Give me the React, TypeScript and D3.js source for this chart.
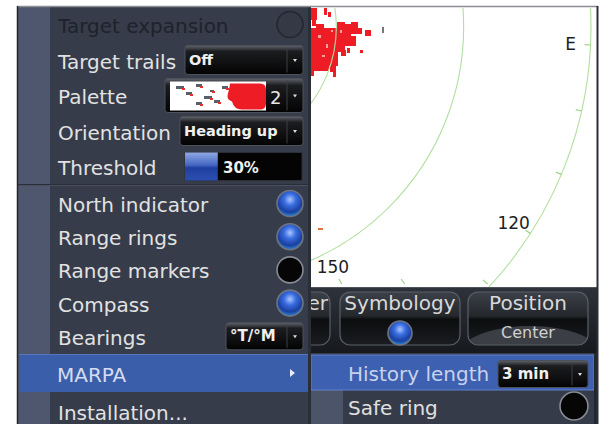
import React from "react";
import * as d3 from "d3";

// ---------- data ----------
const menuItems = [
  "Target expansion", "Target trails", "Palette", "Orientation", "Threshold",
  "North indicator", "Range rings", "Range markers", "Compass", "Bearings",
  "MARPA", "Installation...",
];
const menuControls = [
  "ring", "select", "palette", "select", "slider",
  "on", "on", "off", "on", "select", "arrow", "none",
];
const menuValues = ["", "Off", "2", "Heading up", "30%", "", "", "", "", "°T/°M", "", ""];
const thresholdPercent = 28;
const subItems = ["History length", "Safe ring"];
const subControls = ["select", "off"];
const subValues = ["3 min", ""];
const toolbarButtons = ["Filter", "Symbology", "Position"];
const toolbarSubs = ["", "ball", "Center"];
const ringRanges = [0.5, 1, 1.5];
const maxRange = 1.5;
const heading = 357.3;
const compassTicks = [90, 100, 110, 120, 130, 140, 150];
const compassLabels = [
  { bearing: 90, text: "E" },
  { bearing: 120, text: "120" },
  { bearing: 150, text: "150" },
];
// radar echo cells (image px: x, y, w, h)
const radarEchoes = [
  [310, 8, 7, 12], [312, 20, 4, 6], [324, 8, 3, 7], [328, 12, 3, 5],
  [310, 28, 28, 38], [316, 24, 8, 6], [337, 22, 8, 30], [345, 24, 6, 22],
  [351, 22, 7, 12], [351, 36, 5, 10], [358, 28, 4, 6], [313, 62, 16, 9],
  [330, 60, 6, 12], [333, 70, 3, 7], [310, 66, 4, 10], [341, 50, 5, 6],
  [365, 30, 6, 6], [360, 50, 3, 3], [347, 48, 3, 5],
];
const echoHoles = [[318, 35, 3, 3], [326, 44, 2, 4], [340, 30, 2, 3], [322, 55, 3, 2], [331, 30, 2, 2]];
const echoSpecks = [[382, 27, 2, 6], [318, 228, 5, 2]];
const paletteSpecks = [
  [176, 86, 8, 3], [186, 92, 6, 3], [196, 84, 6, 3], [204, 96, 8, 3],
  [214, 100, 6, 3], [196, 102, 6, 3], [222, 86, 6, 3], [210, 90, 4, 2],
];

const FONT = "DejaVu Sans";

function Select({ x, y, w, h, label, fs = 14.5 }: any) {
  return (
    <g>
      <rect x={x} y={y} width={w} height={h} rx={3} fill="url(#selGrad)" stroke="#4d515a" />
      <line x1={x + w - 16} x2={x + w - 16} y1={y + 2} y2={y + h - 2} stroke="#3c3f46" />
      <path d={`M${x + w - 10},${y + h / 2 - 1} l4,0 l-2,3 z`} fill="#dddddd" />
      <text x={x + 4} y={y + h / 2 + 5} fontSize={fs} fontWeight="bold" fill="#f0f0f0" fontFamily={FONT}>
        {label}
      </text>
    </g>
  );
}

function Ball({ cx, cy, on, r = 13 }: any) {
  return (
    <circle cx={cx} cy={cy} r={r} fill={on ? "url(#ballGrad)" : "#060606"} stroke={on ? "#6d7380" : "#868b94"} strokeWidth={1.6} />
  );
}

export default function App() {
  // radar geometry
  const cx = 209, cy = 27, R = 382;
  const view = { x0: 311, y0: 8, x1: 597, y1: 287 };
  const rScale = d3.scaleLinear().domain([0, maxRange]).range([0, R]);
  const angle = (b: number) => ((b - heading - 90) * Math.PI) / 180; // from east, clockwise
  const polar = (b: number, r: number, yMax: number) => {
    const a = angle(b);
    let rr = r;
    if (Math.sin(a) > 0) rr = Math.min(rr, (yMax - cy) / Math.sin(a));
    return [cx + rr * Math.cos(a), cy + rr * Math.sin(a), rr];
  };

  // menu layout
  const rowY = d3.scaleLinear().domain([0, 4, 5, 9, 10, 11]).range([24.5, 166.5, 203.5, 336.3, 373, 411.5]);
  const selectBox: any = {
    1: [185, 118, 29], 2: [165, 138, 34], 3: [180, 123, 29], 4: [185, 117, 28], 9: [226, 77, 27],
  };
  const slider = d3.scaleLinear().domain([0, 100]).range([0, 117]);
  const btnX = (i: number) => 212 + i * 128;
  const subY = d3.scaleLinear().domain([0, 1]).range([372.5, 406]);

  return (
    <svg width={601} height={424} style={{ position: "fixed", left: 0, top: 0, background: "#fff" }} fontFamily={FONT}>
      <defs>
        <linearGradient id="selGrad" x1="0" y1="0" x2="0" y2="1">
          <stop offset="0%" stopColor="#60646c" />
          <stop offset="20%" stopColor="#1c1d20" />
          <stop offset="100%" stopColor="#030303" />
        </linearGradient>
        <radialGradient id="ballGrad" cx="50%" cy="35%" r="65%">
          <stop offset="0%" stopColor="#a9c6ff" />
          <stop offset="35%" stopColor="#3a6de0" />
          <stop offset="75%" stopColor="#1a3f9e" />
          <stop offset="100%" stopColor="#2f8ad8" />
        </radialGradient>
        <linearGradient id="sliderGrad" x1="0" y1="0" x2="0" y2="1">
          <stop offset="0%" stopColor="#8fa9e2" />
          <stop offset="45%" stopColor="#4466c2" />
          <stop offset="55%" stopColor="#1f3f9f" />
          <stop offset="100%" stopColor="#2b4fb2" />
        </linearGradient>
        <linearGradient id="toolGrad" x1="0" y1="0" x2="0" y2="1">
          <stop offset="0%" stopColor="#2e323a" />
          <stop offset="100%" stopColor="#16181c" />
        </linearGradient>
        <linearGradient id="btnGrad" x1="0" y1="0" x2="0" y2="1">
          <stop offset="0%" stopColor="#3c4048" />
          <stop offset="45%" stopColor="#24272c" />
          <stop offset="52%" stopColor="#0c0d0f" />
          <stop offset="100%" stopColor="#1b1d21" />
        </linearGradient>
        <clipPath id="radarClip">
          <rect x={view.x0} y={view.y0} width={view.x1 - view.x0} height={view.y1 - view.y0} />
        </clipPath>
        {toolbarButtons.map((b, i) => (
          <clipPath id={`btnClip${i}`} key={b}>
            <rect x={btnX(i)} y={292} width={120} height={53} rx={10} />
          </clipPath>
        ))}
      </defs>

      {/* radar */}
      <rect x={view.x0} y={view.y0} width={view.x1 - view.x0} height={view.y1 - view.y0} fill="#ffffff" />
      <g clipPath="url(#radarClip)">
        {radarEchoes.map(([x, y, w, h], i) => (
          <rect key={i} x={x} y={y} width={w} height={h} fill="#ee1c24" />
        ))}
        {echoHoles.map(([x, y, w, h], i) => (
          <rect key={i} x={x} y={y} width={w} height={h} fill="#f6a0a0" />
        ))}
        {echoSpecks.map(([x, y, w, h], i) => (
          <rect key={i} x={x} y={y} width={w} height={h} fill={i === 0 ? "#777" : "#e07040"} />
        ))}
        {ringRanges.map((r) => (
          <circle key={r} cx={cx} cy={cy} r={rScale(r)} fill="none" stroke="#b3dea0" strokeWidth={1.1} />
        ))}
        {compassTicks.map((b) => {
          const [x, y] = polar(b, R, 284);
          const a = angle(b);
          return <line key={b} x1={x} y1={y} x2={x - 6 * Math.cos(a)} y2={y - 6 * Math.sin(a)} stroke="#9fd28a" strokeWidth={1.2} />;
        })}
        {compassLabels.map((l) => {
          const [x, y] = polar(l.bearing, R - 20, 267);
          return (
            <text key={l.text} x={x} y={y + 6} textAnchor="middle" fontSize={17} fill="#1e1e1e">
              {l.text}
            </text>
          );
        })}
      </g>

      {/* toolbar */}
      <rect x={308} y={287} width={290} height={68} fill="url(#toolGrad)" />
      <line x1={308} x2={598} y1={287.5} y2={287.5} stroke="#4e535c" />
      {toolbarButtons.map((b, i) => {
        const x = btnX(i);
        return (
          <g key={b}>
            <rect x={x} y={292} width={i === 0 ? 118 : 120} height={53} rx={10} fill="url(#btnGrad)" />
            {toolbarSubs[i] === "Center" && (
              <ellipse cx={x + 62} cy={356} rx={72} ry={30} fill="#3b3e44" clipPath={`url(#btnClip${i})`} />
            )}
            <rect x={x} y={292} width={i === 0 ? 118 : 120} height={53} rx={10} fill="none" stroke="#5b6068" strokeWidth={1.2} />
            <text
              x={i === 0 ? x + 116 : x + 60}
              y={310}
              textAnchor={i === 0 ? "end" : "middle"}
              fontSize={20}
              fill="#d9d9d9"
            >
              {b}
            </text>
            {toolbarSubs[i] === "ball" && <Ball cx={x + 60} cy={333} on r={12} />}
            {toolbarSubs[i] === "Center" && (
              <text x={x + 60} y={338} textAnchor="middle" fontSize={16} fill="#d0d0d0">
                {toolbarSubs[i]}
              </text>
            )}
          </g>
        );
      })}

      {/* submenu */}
      <rect x={310} y={353} width={288} height={71} fill="#353b48" />
      <rect x={311} y={389} width={32} height={35} fill="#4b5468" />
      <rect x={311} y={355} width={283} height={35} fill="#3d61b0" stroke="#5f82d0" strokeWidth={1} />
      <rect x={594} y={353} width={4} height={71} fill="#23262d" />
      {subItems.map((s, i) => {
        const y = subY(i);
        return (
          <g key={s}>
            <text x={348} y={y + 8.5} fontSize={20} fill={i === 0 ? "#c9d2ec" : "#e0e0e0"}>
              {s}
            </text>
            {subControls[i] === "select" && <Select x={498} y={y - 12} w={90} h={27} label={subValues[i]} fs={15} />}
            {subControls[i] === "off" && <Ball cx={574} cy={y} on={false} r={14} />}
          </g>
        );
      })}

      {/* left menu */}
      <rect x={17} y={6} width={291} height={418} fill="#363c4a" />
      <rect x={18} y={7} width={32} height={417} fill="#4e576d" />
      <line x1={18} x2={308} y1={184.5} y2={184.5} stroke="#2a2e37" />
      <line x1={18} x2={308} y1={185.5} y2={185.5} stroke="#4a5062" />
      <rect x={19} y={354} width={289} height={38} fill="#3b5eab" />
      <line x1={19} x2={308} y1={354.5} y2={354.5} stroke="#5677c0" />
      <rect x={308} y={6} width={3} height={418} fill="#2a2e37" />
      {menuItems.map((m, i) => {
        const y = rowY(i);
        const ctl = menuControls[i];
        const color = i === 0 ? "#1e222a" : i === 10 ? "#d6dcef" : "#e2e2e2";
        return (
          <g key={m}>
            <text x={i === 10 ? 57 : 58} y={y + 8.5} fontSize={20} fill={color}>
              {m}
            </text>
            {ctl === "ring" && <circle cx={290} cy={y} r={13} fill="#343945" stroke="#23272e" strokeWidth={1.6} />}
            {(ctl === "on" || ctl === "off") && <Ball cx={290} cy={y} on={ctl === "on"} />}
            {ctl === "select" && (
              <Select x={selectBox[i][0]} y={y - selectBox[i][2] / 2} w={selectBox[i][1]} h={selectBox[i][2]} label={menuValues[i]} fs={i === 9 ? 15 : 14.5} />
            )}
            {ctl === "palette" && (
              <g>
                <Select x={selectBox[i][0]} y={y - 17} w={selectBox[i][1]} h={34} label="" />
                <rect x={170} y={y - 14} width={96} height={29} fill="#ffffff" />
                <path d={`M230,${y - 12} h30 q6,0 6,6 v14 q0,6 -6,6 h-18 q-8,0 -10,-8 q-6,-2 -4,-8 q2,-8 2,-10 z`} fill="#ee1c24" />
                {paletteSpecks.map(([x, yy, w, h], k) => (
                  <g key={k}>
                    <rect x={x} y={yy} width={w} height={h} fill="#55606a" />
                    <rect x={x + w - 2} y={yy + h - 1} width={3} height={2} fill="#e23030" />
                  </g>
                ))}
                <text x={270} y={y + 8} fontSize={18} fill="#e8e8e8">
                  {menuValues[i]}
                </text>
              </g>
            )}
            {ctl === "slider" && (
              <g>
                <rect x={185} y={y - 14} width={117} height={28} fill="#040404" stroke="#2c2f35" />
                <rect x={185} y={y - 14} width={slider(thresholdPercent)} height={28} fill="url(#sliderGrad)" />
                <text x={223} y={y + 6} fontSize={15} fontWeight="bold" fill="#f0f0f0">
                  {menuValues[i]}
                </text>
              </g>
            )}
            {ctl === "arrow" && <path d={`M290,${y - 4} l5,4 l-5,4 z`} fill="#e8ecf8" />}
          </g>
        );
      })}

      {/* frame */}
      <line x1={17} x2={598} y1={6.5} y2={6.5} stroke="#8a8d92" strokeWidth={1.5} />
      <line x1={17.5} x2={17.5} y1={6} y2={424} stroke="#24272d" strokeWidth={1.5} />
      <line x1={597.5} x2={597.5} y1={6} y2={424} stroke="#2b2f38" strokeWidth={2} />
    </svg>
  );
}
